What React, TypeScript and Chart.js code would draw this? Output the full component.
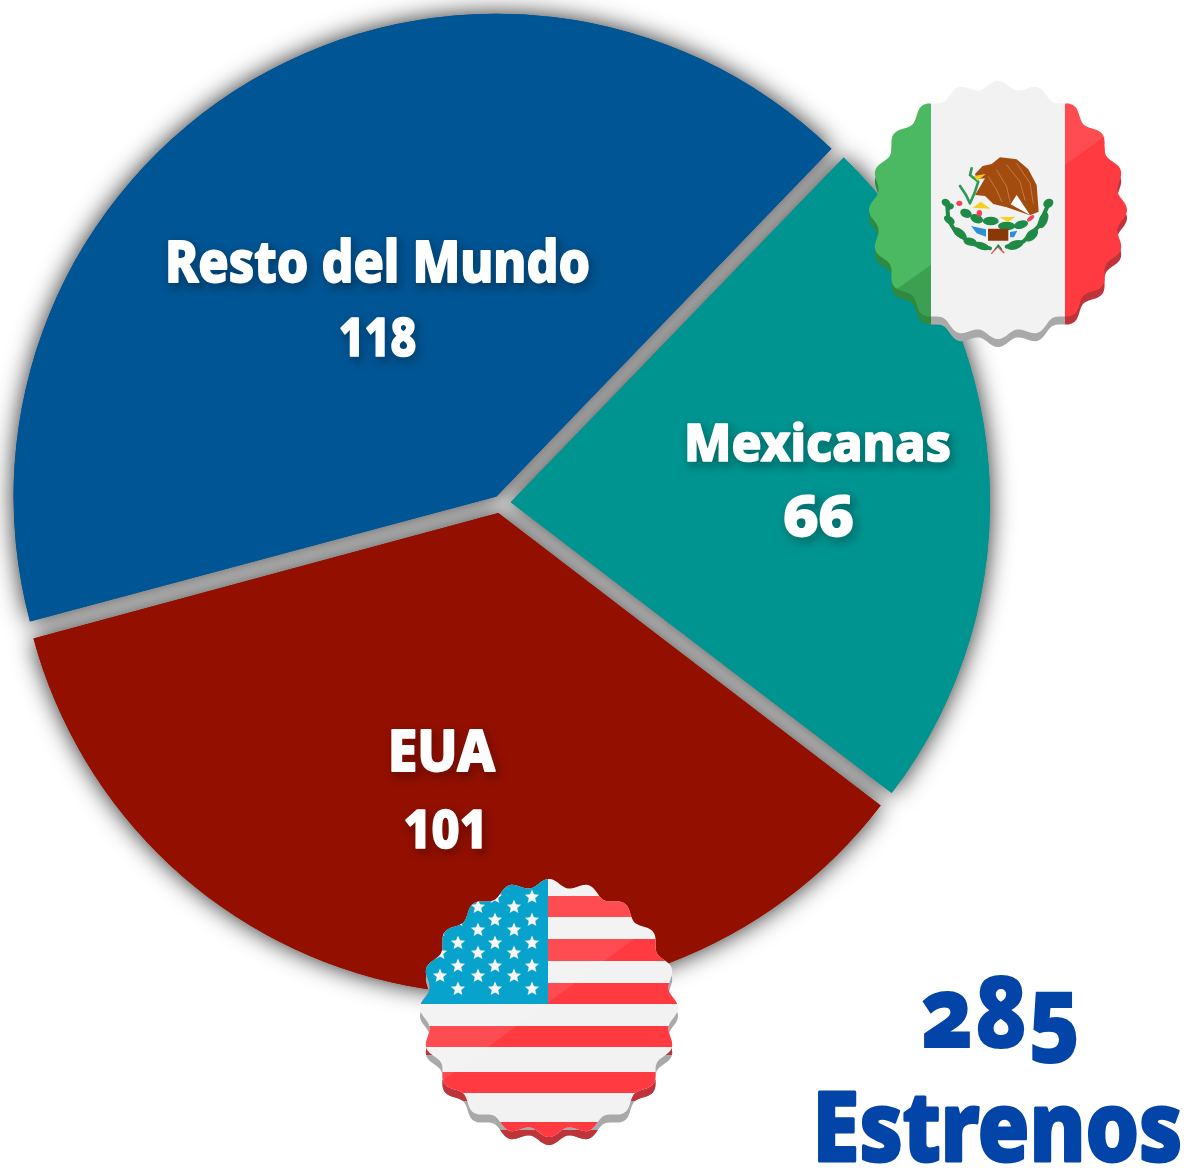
import React, { useEffect, useRef } from "react";
import { Chart, registerables } from "chart.js";

Chart.register(...registerables);

const categories = ["Mexicanas", "EUA", "Resto del Mundo"];
const values = [66, 101, 118];
const sliceColors = ["#009490", "#931000", "#005594"];
const sliceOffsets = [42, 41, 30];
const totalValue = "285";
const totalLabel = "Estrenos";

const FONT = '"Noto Sans"';
const W = 1189;
const H = 1168;

type Box = [number, number, number, number];
const nameBoxes: Box[] = [
  [688, 949, 421, 462],
  [392, 495, 731, 772],
  [169, 588, 239, 283],
];
const valueBoxes: Box[] = [
  [785, 852, 496, 537],
  [406, 481, 809, 849],
  [341, 415, 317, 357],
];

function fitText(ctx: CanvasRenderingContext2D, text: string, b: Box, shadow: boolean, color: string) {
  const [x0, x1, y0, y1] = b;
  ctx.save();
  ctx.font = `800 100px ${FONT}`;
  ctx.textBaseline = "alphabetic";
  ctx.textAlign = "left";
  const m = ctx.measureText(text);
  const inkW = m.actualBoundingBoxRight + m.actualBoundingBoxLeft;
  const inkH = m.actualBoundingBoxAscent + m.actualBoundingBoxDescent;
  const sx = (x1 - x0) / inkW;
  const sy = (y1 - y0) / inkH;
  if (shadow) {
    ctx.shadowColor = "rgba(0,0,0,0.8)";
    ctx.shadowBlur = 8;
    ctx.shadowOffsetX = 3;
    ctx.shadowOffsetY = 4;
  }
  ctx.fillStyle = color;
  ctx.strokeStyle = color;
  ctx.lineJoin = "round";
  ctx.translate(x0 + m.actualBoundingBoxLeft * sx, y1 - m.actualBoundingBoxDescent * sy);
  ctx.scale(sx, sy);
  ctx.lineWidth = 3.2;
  ctx.strokeText(text, 0, 0);
  ctx.shadowColor = "transparent";
  ctx.fillText(text, 0, 0);
  ctx.restore();
}

function scallop(ctx: CanvasRenderingContext2D, cx: number, cy: number, r: number, amp: number, n: number, phase: number) {
  ctx.beginPath();
  for (let i = 0; i <= 720; i++) {
    const t = (i / 720) * Math.PI * 2;
    const rr = r + amp * Math.cos(n * t + phase);
    const x = cx + rr * Math.sin(t);
    const y = cy - rr * Math.cos(t);
    if (i === 0) ctx.moveTo(x, y);
    else ctx.lineTo(x, y);
  }
  ctx.closePath();
}

function star(ctx: CanvasRenderingContext2D, x: number, y: number, r: number) {
  ctx.beginPath();
  for (let i = 0; i < 10; i++) {
    const a = (i * Math.PI) / 5;
    const q = i % 2 === 0 ? r : r * 0.45;
    const px = x + q * Math.sin(a);
    const py = y - q * Math.cos(a);
    if (i === 0) ctx.moveTo(px, py);
    else ctx.lineTo(px, py);
  }
  ctx.closePath();
  ctx.fill();
}

function blob(ctx: CanvasRenderingContext2D, color: string, pts: number[][]) {
  ctx.fillStyle = color;
  ctx.beginPath();
  pts.forEach((p, i) => (i ? ctx.lineTo(p[0], p[1]) : ctx.moveTo(p[0], p[1])));
  ctx.closePath();
  ctx.fill();
}

function curve(ctx: CanvasRenderingContext2D, color: string, w: number, pts: number[][]) {
  ctx.strokeStyle = color;
  ctx.lineWidth = w;
  ctx.lineCap = "round";
  ctx.lineJoin = "round";
  ctx.beginPath();
  pts.forEach((p, i) => (i ? ctx.lineTo(p[0], p[1]) : ctx.moveTo(p[0], p[1])));
  ctx.stroke();
}

function leaf(ctx: CanvasRenderingContext2D, color: string, x: number, y: number, rx: number, ry: number, a: number) {
  ctx.fillStyle = color;
  ctx.beginPath();
  ctx.ellipse(x, y, rx, ry, a, 0, Math.PI * 2);
  ctx.fill();
}

function drawMexico(ctx: CanvasRenderingContext2D) {
  const cx = 998, cy = 210, r = 125, amp = 4, n = 20;
  const xA = 931, xB = 1065;
  ctx.save();
  ctx.save();
  scallop(ctx, cx, cy + 8, r, amp, n, 0);
  ctx.clip();
  ctx.fillStyle = "#2f8a41";
  ctx.fillRect(cx - 140, cy - 140, xA - cx + 140, 300);
  ctx.fillStyle = "#a9a9a9";
  ctx.fillRect(xA, cy - 140, xB - xA, 300);
  ctx.fillStyle = "#bd343b";
  ctx.fillRect(xB, cy - 140, 200, 300);
  ctx.restore();
  scallop(ctx, cx, cy, r, amp, n, 0);
  ctx.clip();
  ctx.fillStyle = "#4bb862";
  ctx.fillRect(cx - 140, cy - 140, xA - cx + 140, 300);
  ctx.fillStyle = "#f2f2f3";
  ctx.fillRect(xA, cy - 140, xB - xA, 300);
  ctx.fillStyle = "#ff3a41";
  ctx.fillRect(xB, cy - 140, 200, 300);
  ctx.save();
  ctx.beginPath();
  ctx.moveTo(860, 315);
  ctx.lineTo(860, 340);
  ctx.lineTo(931, 340);
  ctx.lineTo(931, 265);
  ctx.closePath();
  ctx.fillStyle = "rgba(0,60,20,0.2)";
  ctx.fill();
  ctx.beginPath();
  ctx.moveTo(1065, 165);
  ctx.lineTo(1130, 118);
  ctx.lineTo(1130, 70);
  ctx.lineTo(1065, 70);
  ctx.closePath();
  ctx.fillStyle = "rgba(255,255,255,0.09)";
  ctx.fill();
  ctx.restore();
  // coat of arms, drawn in zoomed crop units
  ctx.translate(860, 70);
  ctx.scale(1 / 3, 1 / 3);
  const g = "#1f8a45";
  curve(ctx, g, 12, [[262, 410], [265, 450], [290, 490], [340, 522], [390, 535]]);
  curve(ctx, g, 12, [[440, 530], [490, 515], [535, 470], [562, 410]]);
  [[258, 398, 14, 11, 0.6], [270, 410, 12, 9, -0.5], [268, 450, 18, 11, 0.6], [300, 490, 24, 12, 0.7], [330, 515, 20, 12, 0.2], [365, 528, 24, 11, 0.3], [465, 525, 26, 13, -0.3], [515, 495, 24, 14, -0.8], [550, 450, 26, 13, -1.2], [565, 400, 16, 13, -0.6]].forEach((l) => leaf(ctx, g, l[0], l[1], l[2], l[3], l[4]));
  [[318, 430, 18, 13, 0.4], [350, 446, 20, 13, 0.4], [392, 453, 24, 13, 0], [440, 468, 26, 13, 0], [483, 464, 22, 12, -0.3]].forEach((l) => leaf(ctx, "#1d8c48", l[0], l[1], l[2], l[3], l[4]));
  blob(ctx, "#a34c10", [[345, 312], [368, 288], [395, 282], [420, 262], [470, 268], [505, 298], [530, 345], [536, 425], [510, 436], [440, 412], [400, 402], [375, 378], [345, 375], [360, 350], [375, 325], [350, 328]]);
  blob(ctx, "#ffffff", [[470, 375], [510, 435], [452, 403]]);
  curve(ctx, "#d89060", 2, [[410, 300], [440, 350], [450, 395]]);
  curve(ctx, "#d89060", 2, [[440, 285], [480, 335], [495, 390]]);
  curve(ctx, "#d89060", 2, [[385, 320], [410, 360], [425, 395]]);
  curve(ctx, "#d89060", 2, [[470, 280], [510, 340], [520, 400]]);
  curve(ctx, "#2f9a55", 8, [[335, 295], [330, 315], [355, 335], [345, 365], [330, 400], [318, 375], [300, 348]]);
  blob(ctx, "#f5d020", [[342, 318], [378, 312], [352, 332]]);
  blob(ctx, "#f5d020", [[338, 414], [362, 395], [392, 416]]);
  blob(ctx, "#f5d020", [[418, 442], [465, 440], [445, 456]]);
  blob(ctx, "#8a3808", [[384, 476], [445, 476], [445, 512], [384, 512]]);
  blob(ctx, "#2a90d8", [[333, 468], [378, 478], [378, 500], [350, 490]]);
  blob(ctx, "#2a90d8", [[450, 486], [472, 482], [462, 502], [450, 502]]);
  leaf(ctx, "#ee4455", 298, 400, 9, 8, 0);
  leaf(ctx, "#ee4455", 358, 430, 8, 10, 0);
  leaf(ctx, "#ee4455", 512, 445, 13, 6, -0.7);
  curve(ctx, "#ee4455", 4, [[395, 550], [413, 530], [432, 548]]);
  curve(ctx, g, 4, [[405, 538], [415, 525], [425, 538]]);
  ctx.restore();
}

function drawUsa(ctx: CanvasRenderingContext2D) {
  const cx = 549, cy = 1008, r = 125, amp = 4, n = 20;
  const red = [[896, 917], [939, 961], [983, 1004], [1026, 1047], [1072, 1093], [1122, 1150]];
  const draw = (fill: string, stripe: string, dy: number) => {
    ctx.fillStyle = fill;
    ctx.fillRect(cx - 140, cy - 140, 280, 300);
    ctx.fillStyle = stripe;
    red.forEach(([a, b]) => ctx.fillRect(cx - 140, a + dy, 280, b - a));
  };
  ctx.save();
  ctx.save();
  scallop(ctx, cx, cy + 8, r, amp, n, 0);
  ctx.clip();
  draw("#a9a9a9", "#bd343b", 8);
  ctx.restore();
  scallop(ctx, cx, cy, r, amp, n, 0);
  ctx.clip();
  draw("#f2f2f3", "#ff3a41", 0);
  ctx.beginPath();
  ctx.moveTo(680, 905);
  ctx.lineTo(680, 860);
  ctx.lineTo(410, 860);
  ctx.lineTo(410, 1105);
  ctx.closePath();
  ctx.fillStyle = "rgba(255,255,255,0.09)";
  ctx.fill();
  ctx.fillStyle = "#07a3cc";
  ctx.fillRect(cx - 140, cy - 140, 548 - (cx - 140), 1004 - (cy - 140));
  ctx.fillStyle = "#f6f6f6";
  const rows = [897, 907, 920, 930, 943, 953, 966, 976, 989];
  const colsA = [458, 495, 532];
  const colsB = [440, 478, 514];
  rows.forEach((y, i) => {
    (i % 2 === 0 ? colsA : colsB).forEach((x) => star(ctx, x, y, 7.5));
  });
  ctx.restore();
}

export default function App() {
  const ref = useRef<HTMLCanvasElement>(null);
  useEffect(() => {
    const canvas = ref.current;
    if (!canvas) return;
    const art = {
      id: "art",
      beforeDatasetDraw(chart: any) {
        const c = chart.ctx;
        c.save();
        c.shadowColor = "rgba(0,0,0,0.85)";
        c.shadowBlur = 25;
        chart.getDatasetMeta(0).data.forEach((a: any) => a.draw(c));
        c.restore();
      },
      afterDraw(chart: any) {
        const c = chart.ctx;
        categories.forEach((name, i) => {
          fitText(c, name, nameBoxes[i], true, "#ffffff");
          fitText(c, String(values[i]), valueBoxes[i], true, "#ffffff");
        });
        drawMexico(c);
        drawUsa(c);
        fitText(c, totalLabel, [819, 1179, 1092, 1162], false, "#0344a8");
      },
    };
    const S = 1002;
    const cxChart = 499.5;
    const chart = new Chart(canvas, {
      type: "pie",
      data: {
        labels: categories,
        datasets: [{ data: values, backgroundColor: sliceColors, borderWidth: 0, offset: sliceOffsets }],
      },
      options: {
        responsive: false,
        animation: false,
        rotation: 44,
        layout: {
          padding: { left: cxChart - S / 2, top: 503 - S / 2, right: W - cxChart - S / 2, bottom: H - 503 - S / 2 },
        },
        plugins: { legend: { display: false }, tooltip: { enabled: false } },
      },
      plugins: [art],
    });
    return () => chart.destroy();
  }, []);
  return (
    <div style={{ position: "absolute", left: 0, top: 0, width: W, height: H, overflow: "hidden", background: "#fff" }}>
      <canvas ref={ref} width={W} height={H} style={{ display: "block" }} />
      <div
        style={{
          position: "absolute",
          left: 898,
          width: 200,
          top: 947,
          textAlign: "center",
          fontFamily: '"Open Sans"',
          fontWeight: 800,
          fontSize: 114,
          lineHeight: 1,
          color: "#0344a8",
          fontFeatureSettings: '"onum"',
          transform: "scale(0.78, 0.88)",
          transformOrigin: "50% 101px",
        }}
      >
        {totalValue}
      </div>
    </div>
  );
}
